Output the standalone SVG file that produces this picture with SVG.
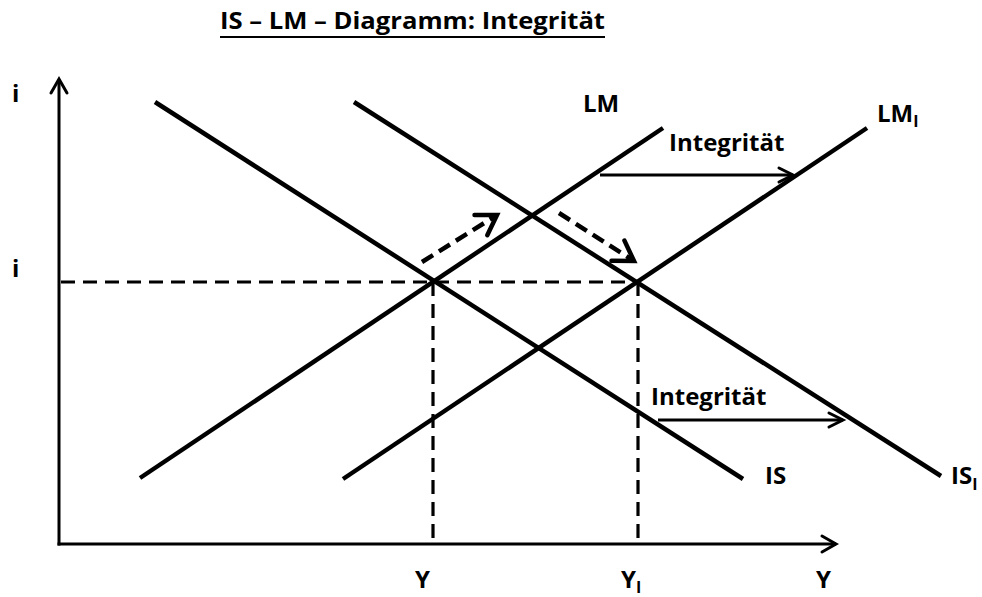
<svg xmlns="http://www.w3.org/2000/svg" width="982" height="597" viewBox="0 0 982 597">
<style>
text{font-family:"Open Sans","Liberation Sans",sans-serif;font-weight:bold;fill:#000;font-size:24px}
.sub{font-size:16px}
.curve{stroke:#000;stroke-width:4.5;fill:none;stroke-linecap:butt}
.axis{stroke:#000;stroke-width:3;fill:none}
.guide{stroke:#000;stroke-width:3.2;fill:none;stroke-dasharray:14 8}
.move{stroke:#000;stroke-width:4.5;fill:none;stroke-dasharray:13 7}
.shift{stroke:#000;stroke-width:3;fill:none}
.head{stroke:#000;fill:none;stroke-linecap:round;stroke-linejoin:miter}
</style>
<defs>
<marker id="axhead" markerUnits="userSpaceOnUse" viewBox="-20 -12 24 24" refX="0" refY="0" markerWidth="24" markerHeight="24" orient="auto" overflow="visible">
<path class="head" d="M-14,-8 L0,0 L-14,8" stroke-width="3"/>
</marker>
<marker id="shhead" markerUnits="userSpaceOnUse" viewBox="-20 -12 24 24" refX="0" refY="0" markerWidth="24" markerHeight="24" orient="auto" overflow="visible">
<path class="head" d="M-14,-7 L0,0 L-14,7" stroke-width="3"/>
</marker>
<marker id="mvhead" markerUnits="userSpaceOnUse" viewBox="-24 -16 28 32" refX="0" refY="0" markerWidth="28" markerHeight="32" orient="auto" overflow="visible">
<path class="head" d="M-19,-12 L0,0 L-19,12" stroke-width="4.5"/>
</marker>
</defs>
<rect width="982" height="597" fill="#fff"/>
<g id="title">
<text x="220" y="29" textLength="385" lengthAdjust="spacingAndGlyphs">IS – LM – Diagramm: Integrität</text>
<line x1="220" y1="37" x2="605" y2="37" stroke="#000" stroke-width="2.2"/>
</g>
<g id="axes">
<line class="axis" x1="59" y1="545.5" x2="59" y2="79" marker-end="url(#axhead)"/>
<line class="axis" x1="57.5" y1="544" x2="836" y2="544" marker-end="url(#axhead)"/>
<text x="12" y="102">i</text>
<text x="12" y="277">i</text>
<text x="415" y="588">Y</text>
<text x="621" y="588">Y<tspan class="sub" dy="5">I</tspan></text>
<text x="816" y="588">Y</text>
</g>
<g id="guides">
<line class="guide" x1="61" y1="282" x2="638" y2="282"/>
<line class="guide" x1="433" y1="282" x2="433" y2="544"/>
<line class="guide" x1="638" y1="282" x2="638" y2="544"/>
</g>
<g id="LM">
<line class="curve" x1="140" y1="478" x2="663" y2="128"/>
<text x="583" y="112">LM</text>
</g>
<g id="LM1">
<line class="curve" x1="343" y1="479" x2="867" y2="128"/>
<text x="877" y="122">LM<tspan class="sub" dy="5">I</tspan></text>
</g>
<g id="IS">
<line class="curve" x1="155" y1="102" x2="743" y2="479"/>
<text x="765" y="484">IS</text>
</g>
<g id="IS1">
<line class="curve" x1="354" y1="102" x2="941" y2="476"/>
<text x="951" y="484">IS<tspan class="sub" dy="6">I</tspan></text>
</g>
<g id="connectors">
<line class="move" x1="422" y1="262" x2="497" y2="215" marker-end="url(#mvhead)"/>
<line class="move" x1="559" y1="213" x2="634" y2="261" marker-end="url(#mvhead)"/>
<line class="shift" x1="600" y1="175" x2="793" y2="175" marker-end="url(#shhead)"/>
<line class="shift" x1="658" y1="420" x2="843" y2="420" marker-end="url(#shhead)"/>
</g>
<g id="labels">
<text x="669" y="151">Integrität</text>
<text x="651" y="405">Integrität</text>
</g>
</svg>
